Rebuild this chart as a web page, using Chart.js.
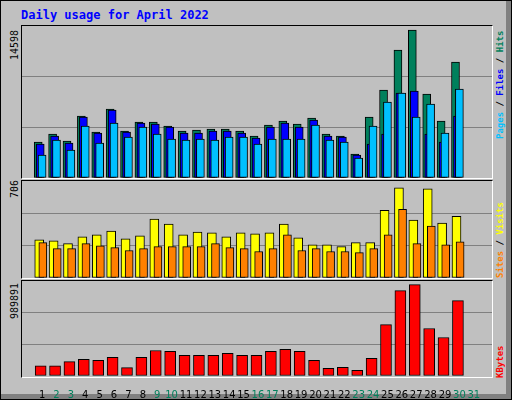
<!DOCTYPE html>
<html>
<head>
<meta charset="utf-8">
<script src="https://cdn.jsdelivr.net/npm/chart.js@4"></script>
<style>
  body { margin: 0; background: #c0c0c0; }
  #frame { position: relative; width: 510px; height: 398px; border: 1px solid #000; background: #c0c0c0; overflow: hidden; }
  #frame:after { content: ""; position: absolute; right: 0; top: 0; width: 5px; height: 100%; background: #808080; }
  #frame:before { content: ""; position: absolute; left: 0; bottom: 0; height: 5px; width: 100%; background: #808080; }
  .title { position: absolute; left: 20px; top: 7px; font: bold 12px "DejaVu Sans Mono", monospace; color: #0000ff; }
  canvas { position: absolute; }
  .panel { position: absolute; left: 20px; width: 470px; border-top: 1px solid #000; border-left: 1px solid #000; border-right: 1px solid #fff; border-bottom: 1px solid #fff; }
  .rot { position: absolute; transform: rotate(-90deg); transform-origin: left top; white-space: nowrap; font: 10px "DejaVu Sans Mono", monospace; }
  .rot.r { font-size: 9px; font-weight: bold; }
</style>
</head>
<body>
<div id="frame">
  <div class="title">Daily usage for April 2022</div>
  <div class="panel" style="top:24px;height:152px"></div>
  <div class="panel" style="top:179px;height:97px"></div>
  <div class="panel" style="top:279px;height:96px"></div>
  <canvas id="c1" width="470" height="152" style="left:21px;top:25px"></canvas>
  <canvas id="c2" width="470" height="97" style="left:21px;top:180px"></canvas>
  <canvas id="c3" width="470" height="118" style="left:21px;top:280px"></canvas>
  <div class="rot" style="left:8px;top:59px;color:#000">14598</div>
  <div class="rot" style="left:8px;top:197px;color:#000">706</div>
  <div class="rot" style="left:8px;top:318px;color:#000">989891</div>
  <div class="rot r" style="left:494px;top:138px"><span style="color:#00c0ff">Pages</span> / <span style="color:#0000ff">Files</span> / <span style="color:#00805c">Hits</span></div>
  <div class="rot r" style="left:494px;top:277px"><span style="color:#ff8000">Sites</span> / <span style="color:#ffff00">Visits</span></div>
  <div class="rot r" style="left:494px;top:377px;color:#ff0000">KBytes</div>
</div>
<script>
const days = Array.from({ length: 31 }, (_, i) => i + 1);
const weekendDays = [2, 3, 9, 10, 16, 17, 23, 24, 30, 31];

const hits = [3456, 4224, 3552, 5952, 4416, 6624, 4512, 5376, 5376, 4992, 4512, 4608, 4704, 4704, 4512, 4032,
  5088, 5472, 5184, 5760, 4224, 4032, 2304, 5856, 8448, 12288, 14208, 8064, 5472, 11136, 0];
const files = [3264, 4032, 3360, 5856, 4320, 6528, 4416, 5280, 5184, 4896, 4320, 4320, 4512, 4512, 4320, 3840,
  4896, 5280, 4896, 5568, 4032, 3936, 2208, 3264, 4224, 8160, 8352, 4224, 3456, 5952, 0];
const pages = [2208, 3648, 2688, 4992, 3360, 5280, 3936, 4896, 4224, 3744, 3648, 3744, 3648, 3936, 3936, 3264,
  3744, 3744, 3744, 5088, 3648, 3456, 1920, 4992, 7296, 8160, 5856, 7104, 4320, 8544, 0];
const visits = [278, 271, 250, 300, 314, 342, 285, 307, 428, 392, 314, 335, 328, 300, 328, 321,
  328, 392, 292, 242, 242, 228, 257, 257, 492, 656, 421, 649, 399, 449, 0];
const sites = [257, 214, 214, 250, 235, 221, 200, 214, 228, 228, 228, 228, 250, 221, 214, 193,
  214, 314, 200, 214, 193, 193, 185, 214, 314, 499, 250, 378, 242, 264, 0];
const kbytes = [107000, 107000, 149000, 173000, 163000, 194000, 87000, 194000, 266000, 256000, 215000, 215000,
  215000, 235000, 215000, 215000, 256000, 277000, 256000, 163000, 80000, 90000, 59000, 183000, 536000,
  889000, 952000, 495000, 401000, 786000, 0];

const maxHits = 14598, maxVisits = 706, maxKBytes = 989891;

// order: lower number is drawn on top
function bars(values, color, shift, width, order) {
  return {
    data: values.map((v, i) => ({ x: days[i] + shift, y: v })),
    backgroundColor: color, borderColor: "#000", borderWidth: 1, borderSkipped: false,
    barThickness: width, grouped: false, order
  };
}

function makeChart(id, datasets, max, showX) {
  new Chart(document.getElementById(id), {
    type: "bar",
    data: { datasets },
    options: {
      responsive: false, animation: false, devicePixelRatio: 1,
      layout: { padding: 0 },
      plugins: { legend: { display: false }, tooltip: { enabled: false } },
      scales: {
        x: {
          type: "linear", min: 0.13, max: 31.74, display: showX,
          afterBuildTicks: (s) => { s.ticks = days.map((d) => ({ value: d })); },
          afterFit: (s) => { s.height = showX ? 23 : 0; },
          grid: { display: false }, border: { display: false },
          ticks: {
            padding: 5, autoSkip: false, maxRotation: 0,
            font: { family: "DejaVu Sans", size: 10 },
            color: (c) => weekendDays.includes(c.tick.value) ? "#00805c" : "#000"
          }
        },
        y: {
          min: 0, max: max,
          afterBuildTicks: (s) => { s.ticks = [0, max / 3, 2 * max / 3, max].map((v) => ({ value: v })); },
          afterFit: (s) => { s.width = 0; },
          ticks: { display: false },
          border: { display: false },
          grid: { drawTicks: false, color: (c) => (c.index === 1 || c.index === 2) ? "#808080" : "transparent" }
        }
      }
    }
  });
}

makeChart("c1", [bars(hits, "#00805c", -0.27, 8, 3), bars(files, "#0000ff", -0.13, 8, 2), bars(pages, "#00c0ff", 0, 8, 1)], maxHits, false);
makeChart("c2", [bars(visits, "#ffff00", -0.2, 9, 2), bars(sites, "#ff8000", 0.05, 8, 1)], maxVisits, false);
makeChart("c3", [bars(kbytes, "#ff0000", -0.1, 11, 1)], maxKBytes, true);
</script>
</body>
</html>
